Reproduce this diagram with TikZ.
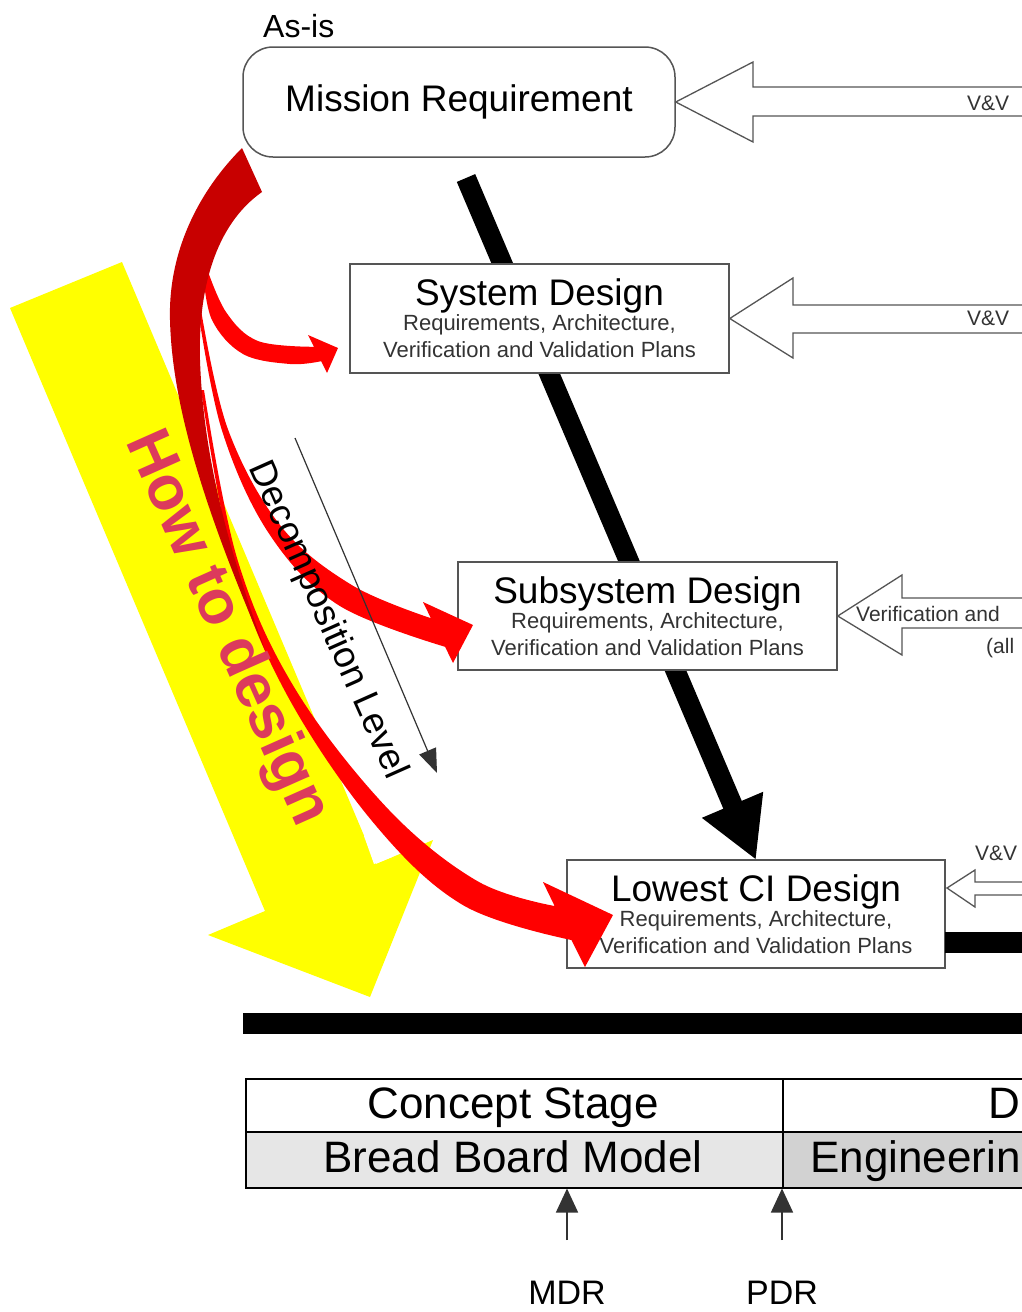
\documentclass[tikz,border=0pt]{standalone}
\usepackage{fontspec}
\setmainfont{Liberation Sans}
\usetikzlibrary{arrows.meta}
\definecolor{boxline}{HTML}{555555}
\definecolor{subtxt}{HTML}{333333}
\definecolor{hylw}{HTML}{FFFF00}
\definecolor{rbright}{HTML}{FF0000}
\definecolor{rdark}{HTML}{C80000}
\definecolor{howtxt}{HTML}{DC3A5C}
\definecolor{cellA}{HTML}{E6E6E6}
\definecolor{cellB}{HTML}{D2D2D2}
\newcommand{\fsz}[1]{\fontsize{#1}{#1}\selectfont}
\begin{document}
\begin{tikzpicture}[x=1pt,y=-1pt,
  box/.style={draw=boxline, line width=1.5pt, fill=white, inner sep=0pt},
  ttl/.style={anchor=base, font=\fsz{37}, inner sep=0pt},
  subt/.style={anchor=base, font=\fsz{22}, text=subtxt, inner sep=0pt},
  hollow/.style={draw=boxline, line width=1.3pt, fill=white, line join=miter},
  vvlabel/.style={anchor=base west, font=\fsz{21}, text=subtxt, inner sep=0pt},
  bigarrow/.style={line width=20pt, -{Triangle[length=60pt,width=62pt]}},
  thinarrow/.style={draw=subtxt, line width=1.2pt, -{Triangle[length=24pt,width=18pt]}},
  tickarrow/.style={draw=subtxt, line width=1.5pt, -{Triangle[length=24pt,width=22pt]}},
  cell/.style={draw=black, line width=1.5pt, anchor=north west, inner sep=0pt},
  celltxt/.style={font=\fsz{44}, inner sep=0pt},
  rev/.style={font=\fsz{34}, anchor=base, inner sep=0pt}
]
\useasboundingbox (0,0) rectangle (1022,1312);
\clip (0,0) rectangle (1022,1312);
\fill[white] (0,0) rectangle (1022,1312);

% yellow "How to design" arrow
\fill[hylw] (10,308) -- (122,262) -- (376,864) -- (433,840) -- (370,997) -- (208,935) -- (265,911) -- cycle;
\fill[white] (364,836) -- (382,829) -- (392,857) -- (374,864) -- cycle;

% big black arrow (behind boxes)
\coordinate (bigS) at (466,178);
\coordinate (bigE) at (756,860);
\draw[bigarrow] (bigS) -- (bigE);

% boxes
\node[anchor=base west, font=\fsz{32}, inner sep=0pt] (asis) at (263,37) {As-is};
\node[box, rounded corners=30pt, minimum width=432pt, minimum height=110pt, font=\fsz{37}] (mission) at (459,102) {Mission Requirement};

\node[box, minimum width=379pt, minimum height=109pt] (sysd) at (539.5,318.5) {};
\node[ttl] (sysdT) at (539.5,305) {System Design};
\node[subt] (sysdR) at (539.5,330) {Requirements, Architecture,};
\node[subt] (sysdV) at (539.5,357) {Verification and Validation Plans};

\node[box, minimum width=379pt, minimum height=108pt] (subd) at (647.5,616) {};
\node[ttl] (subdT) at (647.5,603) {Subsystem Design};
\node[subt] (subdR) at (647.5,628) {Requirements, Architecture,};
\node[subt] (subdV) at (647.5,655) {Verification and Validation Plans};

\node[box, minimum width=378pt, minimum height=108pt] (lowd) at (756,914) {};
\node[ttl] (lowdT) at (756,901) {Lowest CI Design};
\node[subt] (lowdR) at (756,926) {Requirements, Architecture,};
\node[subt] (lowdV) at (756,953) {Verification and Validation Plans};

% hollow V&V arrows from the right
\draw[hollow] (mission.east) -- (753,62) -- (753,87) -- (1040,87) -- (1040,116) -- (753,116) -- (753,142) -- cycle;
\node[vvlabel] (vv1) at (967,110) {V\&V};
\draw[hollow] (sysd.east) -- (793,278) -- (793,305) -- (1040,305) -- (1040,333) -- (793,333) -- (793,358) -- cycle;
\node[vvlabel] (vv2) at (967,325) {V\&V};
\draw[hollow] (subd.east) -- (902,575) -- (902,598) -- (1040,598) -- (1040,628) -- (902,628) -- (902,655) -- cycle;
\node[vvlabel] (vv3) at (856,621) {Verification and};
\node[vvlabel] (vv3b) at (986,653) {(all};
\coordinate (lowtip) at (947,888);
\draw[hollow] (lowtip) -- (975,870) -- (975,882) -- (1040,882) -- (1040,895) -- (975,895) -- (975,907) -- cycle;
\node[vvlabel] (vv4) at (975,860) {V\&V};
\fill (945,932) rectangle (1040,953);

% red curved arrows
\fill[rbright] plot[smooth, tension=0.6] coordinates {(206,266) (226,312) (258,341) (313.9,346.8)}
  -- (308,335) -- (338,348) -- (327,373) -- (321.1,361.2)
  -- plot[smooth, tension=0.6] coordinates {(321.1,361.2) (290,364) (243,354) (212,320) (203,272)} -- cycle;
\fill[rbright] plot[smooth, tension=0.6] coordinates {(201,310) (227.9,429.1) (280.6,525.8) (351.4,584.8) (430.9,618.2)}
  -- (423,602) -- (473,625) -- (453,663) -- (445.1,646.8)
  -- plot[smooth, tension=0.6] coordinates {(445.1,646.8) (338.6,605.2) (269.4,534.2) (222.1,430.9) (198,310)} -- cycle;
\fill[rbright] plot[smooth, tension=0.6] coordinates {(204,390) (237.4,559.4) (294.5,687.8) (387.5,808.4) (477.2,881) (554.6,906)}
  -- (543,882) -- (613,915) -- (585,967) -- (571.4,940)
  -- plot[smooth, tension=0.6] coordinates {(571.4,940) (462.8,905) (372.5,821.6) (285.5,692.2) (232.6,560.6) (201,390)} -- cycle;
\fill[rdark] (242,148) .. controls (200,190) and (168,250) .. (170,320)
  .. controls (172,400) and (200,500) .. (265,650)
  .. controls (225,540) and (203,450) .. (200,360)
  .. controls (198,290) and (215,225) .. (262,192) -- cycle;

\node[rotate=-66, font=\bfseries\fsz{62}, text=howtxt, inner sep=0pt] (howto) at (226,629) {How to design};

% decomposition level
\coordinate (decS) at (295,438);
\coordinate (decE) at (437,773);
\draw[thinarrow] (decS) -- (decE);
\node[rotate=-66, font=\fsz{37}, inner sep=0pt] (declbl) at (327,620) {Decomposition Level};

% bottom bar and stage table
\fill (243,1013) rectangle (1040,1034);
\node[cell, fill=white, minimum width=537pt, minimum height=53pt] (cs) at (245,1078) {};
\node[cell, fill=cellA, minimum width=537pt, minimum height=56pt] (bb) at (245,1131) {};
\node[cell, fill=white, minimum width=260pt, minimum height=53pt] (ds) at (782,1078) {};
\node[cell, fill=cellB, minimum width=260pt, minimum height=56pt] (em) at (782,1131) {};
\node[celltxt, anchor=base] (csT) at (513,1118) {Concept Stage};
\node[celltxt, anchor=base] (bbT) at (513,1172) {Bread Board Model};
\node[celltxt, anchor=base west] (dsT) at (988,1118) {D};
\node[celltxt, anchor=base west] (emT) at (810,1172) {Engineerin};

\coordinate (mdrFoot) at (567,1240);
\coordinate (pdrFoot) at (782,1240);
\draw[tickarrow] (mdrFoot) -- (mdrFoot |- bb.south);
\draw[tickarrow] (pdrFoot) -- (pdrFoot |- bb.south);
\node[rev] (mdr) at (567,1304) {MDR};
\node[rev] (pdr) at (782,1304) {PDR};
\end{tikzpicture}
\end{document}
